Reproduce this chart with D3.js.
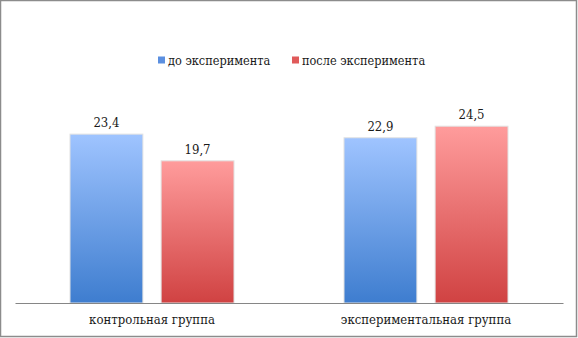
<!DOCTYPE html>
<html><head><meta charset="utf-8">
<script src="https://cdn.jsdelivr.net/npm/d3@7"></script>
<style>body{margin:0;background:#fff}svg{display:block}text{font-family:"DejaVu Serif Condensed","DejaVu Serif",serif;font-stretch:condensed}</style>
</head><body>
<script>
const categories = ["контрольная группа", "экспериментальная группа"];
const seriesNames = ["до эксперимента", "после эксперимента"];
const before = [23.4, 22.9];
const after = [19.7, 24.5];
const labels = [["23,4","19,7"],["22,9","24,5"]];

const W = 578, H = 338;
const fs = 13;
const svg = d3.select("body").append("svg").attr("width", W).attr("height", H);
const defs = svg.append("defs");
function grad(id, top, bot){
  const g = defs.append("linearGradient").attr("id", id).attr("x1",0).attr("y1",0).attr("x2",0).attr("y2",1);
  g.append("stop").attr("offset","0%").attr("stop-color",top);
  g.append("stop").attr("offset","100%").attr("stop-color",bot);
}
grad("gb", "#9fc4ff", "#3e7dcf");
grad("gr", "#ff9c9c", "#d04242");
const fills = ["url(#gb)", "url(#gr)"];
const legendColors = ["#5b8fe0", "#e05a5a"];

svg.append("rect").attr("x",0.5).attr("y",0.5).attr("width",W-2).attr("height",H-2)
  .attr("fill","#fff").attr("stroke","#8c8c8c").attr("stroke-width",1.5);

const x0 = d3.scaleBand().domain(categories).range([15, 563]);
const x1 = d3.scaleBand().domain(seriesNames).range([55, 219]).paddingInner(0.2);
const y = d3.scaleLinear().domain([0, 30]).range([303, 86.5]);

const data = categories.map((c,i)=>({cat:c, vals:[before[i], after[i]], labs: labels[i]}));
const groups = svg.selectAll("g.grp").data(data).join("g")
  .attr("transform", d=>`translate(${x0(d.cat)},0)`);
groups.selectAll("rect").data(d=>d.vals.map((v,j)=>({v, j, s: seriesNames[j]}))).join("rect")
  .attr("x", d=>x1(d.s)).attr("width", x1.bandwidth())
  .attr("y", d=>y(d.v)).attr("height", d=>y(0)-y(d.v))
  .attr("fill", d=>fills[d.j])
  .attr("stroke", "#e2e2e2").attr("stroke-width", 1);
groups.selectAll("text.val").data(d=>d.vals.map((v,j)=>({v, j, s: seriesNames[j], l: d.labs[j]}))).join("text")
  .attr("class","val")
  .attr("x", d=>x1(d.s)+x1.bandwidth()/2).attr("y", d=>y(d.v)-7)
  .attr("text-anchor","middle").attr("font-size",fs).attr("fill","#1a1a1a")
  .text(d=>d.l);

const axis = d3.axisBottom(x0).tickSize(0).tickPadding(12);
const ag = svg.append("g").attr("transform","translate(0,303)").call(axis);
ag.attr("font-family", null);
ag.select(".domain").attr("stroke","#868686").attr("stroke-width",1.2);
ag.selectAll("text").attr("font-size",fs).attr("fill","#1a1a1a");

// legend
const legX = [158, 292];
const lg = svg.selectAll("g.leg").data(seriesNames).join("g")
  .attr("transform",(d,i)=>`translate(${legX[i]},60)`);
lg.append("rect").attr("x",0).attr("y",-3.5).attr("width",7).attr("height",7)
  .attr("fill",(d,i)=>legendColors[i]);
lg.append("text").attr("x",10).attr("y",5).attr("font-size",12.6).attr("fill","#1a1a1a")
  .text(d=>d);
</script>
</body></html>
